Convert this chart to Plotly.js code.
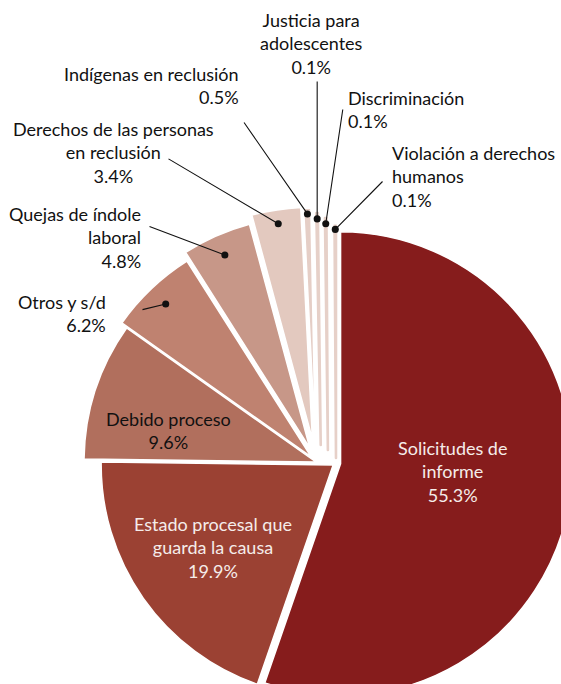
<!DOCTYPE html>
<html>
<head>
<meta charset="utf-8">
<script src="https://cdn.plot.ly/plotly-3.0.1.min.js"></script>
<style>
html, body { margin: 0; padding: 0; overflow: hidden; background: #ffffff; }
#chart { width: 600px; height: 720px; }
</style>
</head>
<body>
<div id="chart"></div>
<script>
// ---- data ----
const categories = [
  "Solicitudes de informe",
  "Estado procesal que guarda la causa",
  "Debido proceso",
  "Otros y s/d",
  "Quejas de índole laboral",
  "Derechos de las personas en reclusión",
  "Indígenas en reclusión",
  "Justicia para adolescentes",
  "Discriminación",
  "Violación a derechos humanos"
];
const displayLabels = [
  "Solicitudes de<br>informe",
  "Estado procesal que<br>guarda la causa",
  "Debido proceso",
  "Otros y s/d",
  "Quejas de índole<br>laboral",
  "Derechos de las personas<br>en reclusión",
  "Indígenas en reclusión",
  "Justicia para<br>adolescentes",
  "Discriminación",
  "Violación a derechos<br>humanos"
];
const values = [55.3, 19.9, 9.6, 6.2, 4.8, 3.4, 0.5, 0.1, 0.1, 0.1];
const colors = ["#861C1C", "#9B4133", "#B16F5D", "#BF8270", "#C79788",
                "#E3C9BF", "#E5CEC6", "#E6D0C8", "#E6D0C8", "#E6D0C8"];

// ---- layout / style ----
const W = 600, H = 720;
const R = 232;
const pulls = [0.02, 0.015, 0.0, 0.03, 0.065, 0.10, 0.095, 0.073, 0.052, 0.022];
const maxPull = Math.max(...pulls);
const half = R * (1 + maxPull);
// slice groups drawn as separate pie layers (each with its own centre)
const groups = [
  {idx: [0, 1, 9], cx: 336, cy: 463},
  {idx: [2, 3, 4, 5, 6], cx: 316, cy: 462},
  {idx: [7], cx: 321, cy: 462},
  {idx: [8], cx: 328, cy: 462}
];
const FONT = "Lato, 'Open Sans', sans-serif";
const FS = 18;

const total = values.reduce((a, b) => a + b, 0);
const tiny = values.map(v => v < 0.3);

const traces = groups.map(g => {
  const inG = i => g.idx.includes(i);
  return {
    type: 'pie',
    values: values,
    labels: categories,
    sort: false,
    direction: 'clockwise',
    rotation: 0,
    pull: pulls,
    textinfo: 'none',
    hoverinfo: 'skip',
    showlegend: false,
    marker: {
      colors: values.map((v, i) => inG(i) ? colors[i] : 'rgba(0,0,0,0)'),
      line: {
        color: values.map((v, i) => inG(i) ? (tiny[i] ? colors[i] : '#ffffff') : 'rgba(0,0,0,0)'),
        width: values.map((v, i) => inG(i) ? (tiny[i] ? 2.6 : 1.5) : 0)
      }
    },
    domain: {
      x: [(g.cx - half) / W, (g.cx + half) / W],
      y: [1 - (g.cy + half) / H, 1 - (g.cy - half) / H]
    }
  };
});

// geometry helpers (pixel space -> paper)
const px = (x) => x / W;
const py = (y) => 1 - y / H;
function groupOf(i) { return groups.find(g => g.idx.includes(i)); }
function midAngle(i) {
  let cum = 0;
  for (let k = 0; k < i; k++) cum += values[k];
  const frac = (cum + values[i] / 2) / total;
  return Math.PI / 2 - 2 * Math.PI * frac;
}
function pointOnSlice(i, rf) {
  const g = groupOf(i);
  const a = midAngle(i);
  const vx = g.cx + pulls[i] * R * Math.cos(a);
  const vy = g.cy - pulls[i] * R * Math.sin(a);
  return [vx + rf * R * Math.cos(a), vy - rf * R * Math.sin(a)];
}
const pctText = i => displayLabels[i] + "<br>" + values[i].toFixed(1) + "%";

// label placement (pixel positions)
const insideLabels = [
  {i: 0, x: 452, y: 471, color: '#F5ECEA'},
  {i: 1, x: 213, y: 547, color: '#F5ECEA'},
  {i: 2, x: 168, y: 430, color: '#111111'}
];
const outsideLabels = [
  {i: 3, x: 108, y: 313, xanchor: 'right', align: 'right', tail: [141, 310], rf: 0.91},
  {i: 4, x: 143, y: 238, xanchor: 'right', align: 'right', tail: [148, 226], rf: 0.91},
  {i: 5, x: 113, y: 152, xanchor: 'center', align: 'center', tail: [167, 158], rf: 0.94},
  {i: 6, x: 241, y: 85, xanchor: 'right', align: 'right', tail: [243, 121], rf: 0.975},
  {i: 7, x: 311, y: 43, xanchor: 'center', align: 'center', tail: [null, 80], rf: 0.975},
  {i: 8, x: 346, y: 109, xanchor: 'left', align: 'left', tail: [343, 108], rf: 0.975},
  {i: 9, x: 390, y: 176, xanchor: 'left', align: 'left', tail: [384, 180], rf: 0.985}
];

const annotations = [];
insideLabels.forEach(l => {
  annotations.push({
    text: pctText(l.i), x: px(l.x), y: py(l.y), xref: 'paper', yref: 'paper',
    xanchor: 'center', yanchor: 'middle', align: 'center', showarrow: false,
    font: {family: FONT, size: FS, color: l.color}
  });
});
outsideLabels.forEach(l => {
  annotations.push({
    text: pctText(l.i), x: px(l.x), y: py(l.y), xref: 'paper', yref: 'paper',
    xanchor: l.xanchor, yanchor: 'middle', align: l.align, showarrow: false,
    font: {family: FONT, size: FS, color: '#111111'}
  });
  const head = pointOnSlice(l.i, l.rf);
  const tx = l.tail[0] === null ? head[0] : l.tail[0];
  const ty = l.tail[1];
  annotations.push({
    text: '', x: px(head[0]), y: py(head[1]), xref: 'paper', yref: 'paper',
    showarrow: true, arrowhead: 6, arrowsize: 1.6, arrowwidth: 1.1, arrowcolor: '#111111',
    ax: tx - head[0], ay: ty - head[1]
  });
});

const layout = {
  width: W, height: H,
  margin: {l: 0, r: 0, t: 0, b: 0},
  paper_bgcolor: '#ffffff',
  showlegend: false,
  annotations: annotations,
  font: {family: FONT, size: FS, color: '#111111'}
};

Plotly.newPlot('chart', traces, layout, {staticPlot: true, displayModeBar: false});
</script>
</body>
</html>
